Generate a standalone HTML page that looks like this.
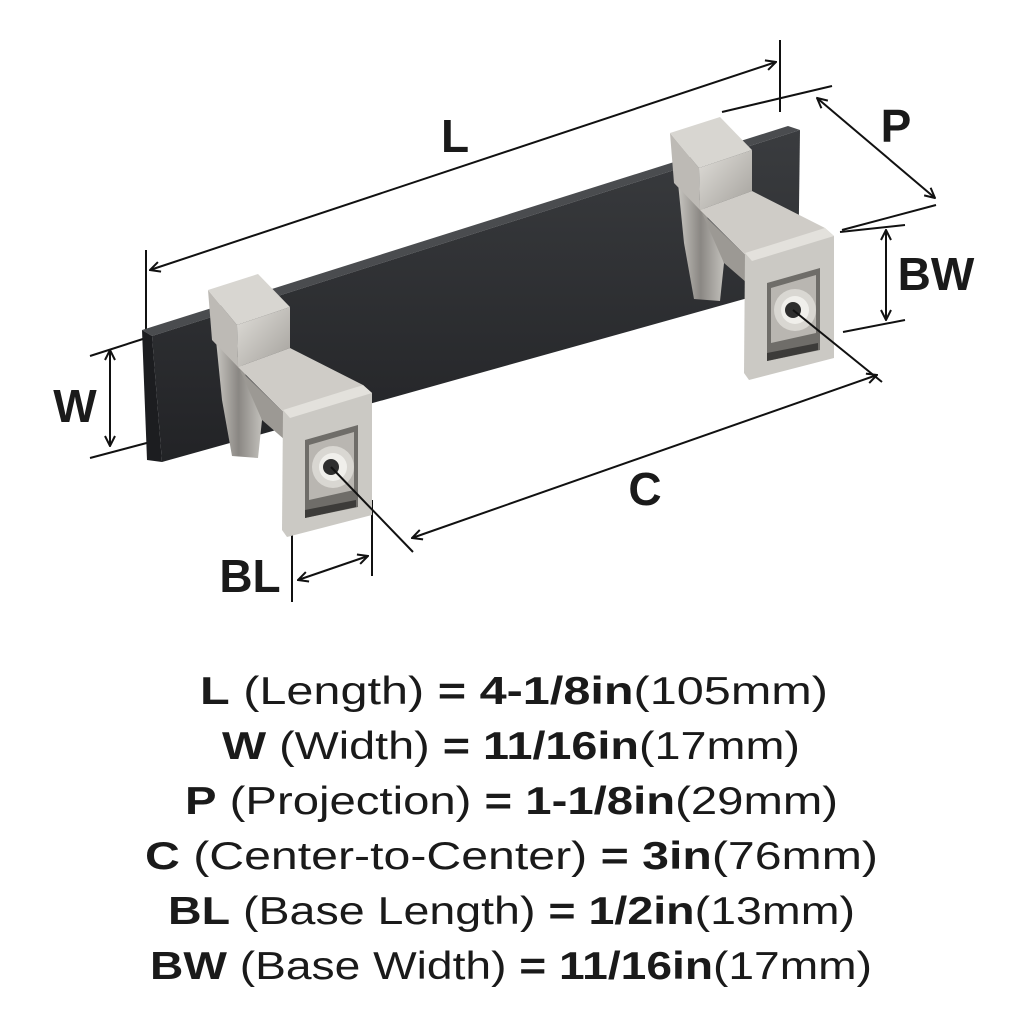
<!DOCTYPE html>
<html><head><meta charset="utf-8"><style>
html,body{margin:0;padding:0;background:#fff;}
svg{display:block;}
text{font-family:"Liberation Sans",sans-serif;fill:#1a1a1a;}
</style></head><body>
<svg width="1024" height="1024" viewBox="0 0 1024 1024" xmlns="http://www.w3.org/2000/svg">
<defs>
<marker id="a" markerWidth="12" markerHeight="12" refX="11" refY="6" orient="auto-start-reverse" markerUnits="userSpaceOnUse">
<path d="M1,1 L11,6 L1,11" fill="none" stroke="#111" stroke-width="2"/></marker>
<linearGradient id="m" x1="0" y1="0" x2="1" y2="1"><stop offset="0" stop-color="#e0ded9"/><stop offset="1" stop-color="#a4a19c"/></linearGradient>
<linearGradient id="m2" x1="0" y1="0" x2="1" y2="0"><stop offset="0" stop-color="#c9c7c2"/><stop offset="0.5" stop-color="#8a8783"/><stop offset="1" stop-color="#c2c0bb"/></linearGradient>
<linearGradient id="b" x1="0" y1="0" x2="0" y2="1"><stop offset="0" stop-color="#3a3c3f"/><stop offset="1" stop-color="#222326"/></linearGradient>
<g id="post">
  <!-- stem -->
  <polygon points="215,330 240,360 262,420 258,458 232,456 222,400" fill="url(#m2)"/>
  <!-- cap left side -->
  <polygon points="208,290 237,325 238,367 212,340" fill="#bdbab5"/>
  <!-- cap top -->
  <polygon points="208,290 258,274 290,307 237,325" fill="#d8d6d1"/>
  <!-- cap front -->
  <polygon points="237,325 290,307 290,348 238,367" fill="url(#m)"/>
  <!-- arm top -->
  <polygon points="238,367 290,348 363,385 283,412" fill="#cfccc7"/>
  <polygon points="240,370 283,412 285,440 262,420" fill="#9c9994"/>
  <!-- base plate -->
  <polygon points="283,410 363,385 372,393 372,515 287,537 282,530" fill="#cbc9c4"/>
  <polygon points="283,410 363,385 372,393 290,418" fill="#e3e1dc"/>
  <polygon points="305,440 358,425 358,507 305,518" fill="#6f6d69"/>
  <polygon points="309,445 354,432 354,490 309,500" fill="#b9b6b1"/>
  <polygon points="305,510 356,500 356,507 305,518" fill="#3c3b39"/>
  <circle cx="333" cy="467" r="21" fill="#d9d7d2"/>
  <circle cx="333" cy="467" r="14" fill="#f0efeb"/>
  <circle cx="331" cy="467" r="8" fill="#2e2e2e"/>
</g>
</defs>
<g stroke="#111" stroke-width="2" fill="none">
<line x1="146" y1="250" x2="146" y2="330"/><line x1="780" y1="40" x2="780" y2="112"/>
<line x1="150" y1="270" x2="776" y2="62" marker-start="url(#a)" marker-end="url(#a)"/>
<line x1="722" y1="112" x2="832" y2="86"/><line x1="842" y1="230" x2="936" y2="205"/>
<line x1="817" y1="98" x2="935" y2="198" marker-start="url(#a)" marker-end="url(#a)"/>
<line x1="840" y1="232" x2="905" y2="225"/><line x1="843" y1="332" x2="905" y2="320"/>
<line x1="886" y1="230" x2="886" y2="320" marker-start="url(#a)" marker-end="url(#a)"/>
<line x1="90" y1="356" x2="146" y2="338"/><line x1="90" y1="458" x2="158" y2="440"/>
<line x1="110" y1="350" x2="110" y2="446" marker-start="url(#a)" marker-end="url(#a)"/>
<line x1="292" y1="535" x2="292" y2="602"/><line x1="372" y1="500" x2="372" y2="576"/>
<line x1="298" y1="580" x2="368" y2="556" marker-start="url(#a)" marker-end="url(#a)"/>
</g>
<!-- bar -->
<polygon points="142,330 788,126 800,130 152,336" fill="#4a4c4f"/>
<polygon points="152,336 800,130 798,284 162,462" fill="url(#b)"/>
<polygon points="142,330 152,336 162,462 147,460" fill="#1c1d20"/>
<use href="#post"/>
<use href="#post" transform="translate(462,-157)"/>
<g stroke="#111" stroke-width="2" fill="none">
<line x1="331" y1="467" x2="413" y2="552"/><line x1="793" y1="310" x2="882" y2="382"/>
<line x1="412" y1="538" x2="877" y2="375" marker-start="url(#a)" marker-end="url(#a)"/>
</g>
<g font-size="46" font-weight="bold" text-anchor="middle">
<text x="455" y="152">L</text><text x="896" y="142">P</text><text x="936" y="290">BW</text>
<text x="75" y="422">W</text><text x="645" y="505">C</text><text x="250" y="592">BL</text>
</g>
<g font-size="39">
<text x="200" y="704" textLength="628" lengthAdjust="spacingAndGlyphs"><tspan font-weight="bold">L</tspan> (Length) <tspan font-weight="bold">= 4-1/8in</tspan>(105mm)</text>
<text x="222" y="759" textLength="578" lengthAdjust="spacingAndGlyphs"><tspan font-weight="bold">W</tspan> (Width) <tspan font-weight="bold">= 11/16in</tspan>(17mm)</text>
<text x="185" y="814" textLength="653" lengthAdjust="spacingAndGlyphs"><tspan font-weight="bold">P</tspan> (Projection) <tspan font-weight="bold">= 1-1/8in</tspan>(29mm)</text>
<text x="145" y="869" textLength="733" lengthAdjust="spacingAndGlyphs"><tspan font-weight="bold">C</tspan> (Center-to-Center) <tspan font-weight="bold">= 3in</tspan>(76mm)</text>
<text x="168" y="924" textLength="687" lengthAdjust="spacingAndGlyphs"><tspan font-weight="bold">BL</tspan> (Base Length) <tspan font-weight="bold">= 1/2in</tspan>(13mm)</text>
<text x="150" y="979" textLength="722" lengthAdjust="spacingAndGlyphs"><tspan font-weight="bold">BW</tspan> (Base Width) <tspan font-weight="bold">= 11/16in</tspan>(17mm)</text>
</g>
</svg>
</body></html>
